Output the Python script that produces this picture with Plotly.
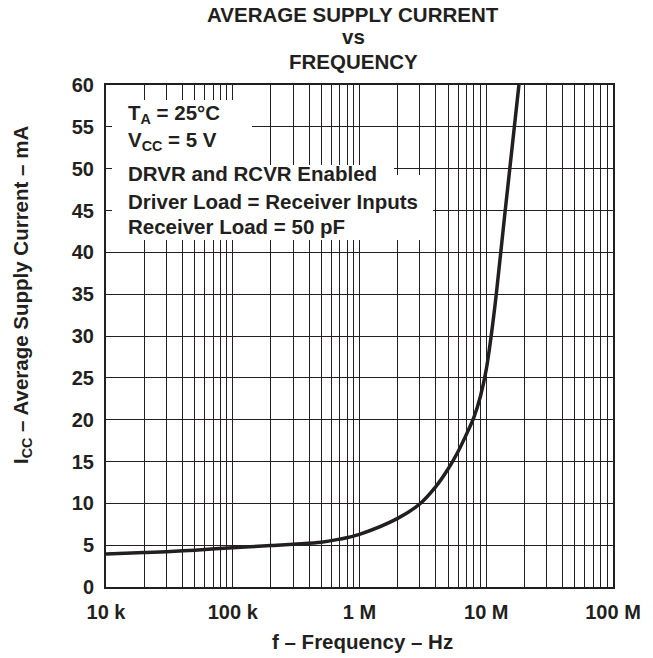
import plotly.graph_objects as go

# ---- data ----
freq_hz = [10e3, 20e3, 30e3, 50e3, 100e3, 200e3, 300e3, 500e3, 700e3, 1e6,
           2e6, 3e6, 4e6, 5e6, 6e6, 7e6, 8e6, 9e6, 10e6, 11e6, 12e6, 14e6, 18.1e6]
icc_ma = [3.95, 4.12, 4.22, 4.4, 4.7, 4.95, 5.12, 5.35, 5.72, 6.3,
          8.2, 9.95, 12.0, 14.1, 16.2, 18.3, 20.3, 22.8, 26.0, 30.3, 35.0, 44.5, 60.0]

x_tick_vals = [1e4, 1e5, 1e6, 1e7, 1e8]
x_tick_text = ["10 k", "100 k", "1 M", "10 M", "100 M"]
y_tick_vals = [0, 5, 10, 15, 20, 25, 30, 35, 40, 45, 50, 55, 60]

title_lines = ["AVERAGE SUPPLY CURRENT", "vs", "FREQUENCY"]
note_lines = ["T<sub>A</sub> = 25°C", "V<sub>CC</sub> = 5 V",
              "DRVR and RCVR Enabled", "Driver Load = Receiver Inputs",
              "Receiver Load = 50 pF"]
x_title = "f – Frequency – Hz"
y_title = "I<sub>CC</sub> – Average Supply Current – mA"

# ---- layout geometry (page pixels) ----
W_FIG, H_FIG = 653, 658
L, R, T, B = 106, 613, 85, 587        # plot area
PW, PH = R - L, B - T

def px_x(x):
    return (x - L) / PW

def px_y(y):
    return (B - y) / PH

FONT = "Liberation Sans, Arial, Helvetica, sans-serif"
INK = "#231f20"

fig = go.Figure()
fig.add_trace(go.Scatter(
    x=freq_hz, y=icc_ma, mode="lines",
    line=dict(color=INK, width=3.5, shape="spline", smoothing=0.9),
    showlegend=False, hoverinfo="skip"))

fig.update_layout(
    width=W_FIG, height=H_FIG,
    margin=dict(l=L, r=W_FIG - R, t=T, b=H_FIG - B),
    paper_bgcolor="white", plot_bgcolor="white",
    font=dict(family=FONT, color=INK, size=20),
    showlegend=False,
)

fig.update_xaxes(
    type="log", range=[4, 8],
    tickvals=x_tick_vals, ticktext=x_tick_text,
    tickfont=dict(family=FONT, size=20, weight=700, color=INK),
    ticks="", showgrid=True, gridcolor=INK, gridwidth=1,
    minor=dict(dtick="D1", showgrid=True, gridcolor=INK, gridwidth=1, ticks=""),
    showline=True, linecolor=INK, linewidth=2, mirror=True,
    zeroline=False, ticklabelstandoff=6,
)
fig.update_yaxes(
    range=[0, 60], tickvals=y_tick_vals,
    tickfont=dict(family=FONT, size=20, weight=700, color=INK),
    ticks="", showgrid=True, gridcolor=INK, gridwidth=1,
    showline=True, linecolor=INK, linewidth=2, mirror=True,
    zeroline=False, ticklabelstandoff=6,
)

# white backgrounds behind the condition notes (hide grid there)
white_boxes = [(112, 100, 252, 168), (112, 165, 394, 190), (112, 175, 433, 240)]
for x0, y0, x1, y1 in white_boxes:
    fig.add_shape(type="rect", xref="paper", yref="paper",
                  x0=px_x(x0), x1=px_x(x1), y0=px_y(y1), y1=px_y(y0),
                  fillcolor="white", line=dict(width=0), layer="above")

# title
title_y = [15, 36.5, 61]
for txt, yy in zip(title_lines, title_y):
    fig.add_annotation(text=txt, xref="paper", yref="paper",
                       x=px_x(353), y=px_y(yy), xanchor="center", yanchor="middle",
                       showarrow=False,
                       font=dict(family=FONT, size=20.5, weight=700, color=INK))

# condition notes
note_y = [114, 141, 174, 201, 227]
for txt, yy in zip(note_lines, note_y):
    fig.add_annotation(text=txt, xref="paper", yref="paper",
                       x=px_x(126), y=px_y(yy), xanchor="left", yanchor="middle",
                       showarrow=False,
                       font=dict(family=FONT, size=20.5, weight=700, color=INK))

# axis titles
fig.add_annotation(text=x_title, xref="paper", yref="paper",
                   x=px_x(362.5), y=px_y(641), xanchor="center", yanchor="middle",
                   showarrow=False,
                   font=dict(family=FONT, size=20.5, weight=700, color=INK))
fig.add_annotation(text=y_title, xref="paper", yref="paper",
                   x=px_x(22), y=px_y(295), xanchor="center", yanchor="middle",
                   textangle=-90, showarrow=False,
                   font=dict(family=FONT, size=20.5, weight=700, color=INK))

# remove the browser's default 8px body margin so the figure sits at (0, 0)
fig.write_html("out.html",
               config={"displayModeBar": False, "staticPlot": True},
               post_script="document.body.style.margin='0';document.body.style.padding='0';")
